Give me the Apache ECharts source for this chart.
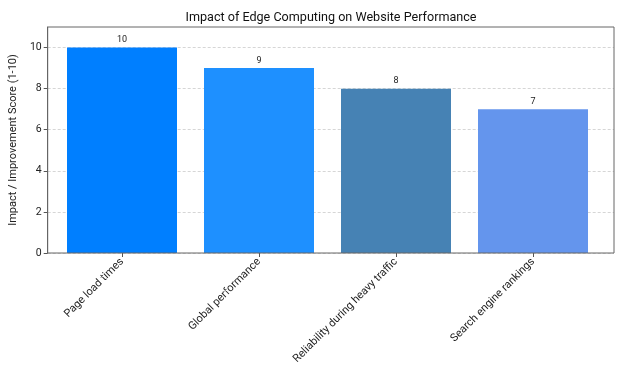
<!DOCTYPE html>
<html>
<head>
<meta charset="utf-8">
<script src="https://cdn.jsdelivr.net/npm/echarts@6/dist/echarts.min.js"></script>
<style>html,body{margin:0;padding:0;background:#fff;}#c{width:624px;height:374px;}</style>
</head>
<body>
<div id="c"></div>
<script>
const categories = ["Page load times", "Global performance", "Reliability during heavy traffic", "Search engine rankings"];
const scores = [10, 9, 8, 7];
const barColors = ["#007FFF", "#1E90FF", "#4682B4", "#6495ED"];
const yTicks = [0, 2, 4, 6, 8, 10];

const FONT = "Roboto";
const chart = echarts.init(document.getElementById('c'), null, {renderer: 'canvas'});
chart.setOption({
  animation: false,
  textStyle: {fontFamily: FONT},
  title: {
    text: "Impact of Edge Computing on Website Performance",
    left: 326, top: 6, textAlign: 'center',
    textStyle: {fontFamily: FONT, fontSize: 12.6, fontWeight: 'normal', color: '#111'}
  },
  grid: [
    {left: 53.5, right: 22.5, top: 27, bottom: 121, show: false},
    {left: 41, right: 10, top: 27, bottom: 121, show: true, borderColor: '#666', borderWidth: 1, z: 3}
  ],
  xAxis: [
    {
      type: 'category', data: categories, gridIndex: 0,
      boundaryGap: true,
      axisLine: {show: false},
      axisTick: {show: true, alignWithLabel: true, length: 4, lineStyle: {color: '#555'}},
      axisLabel: {interval: 0, rotate: 45, margin: 7, fontFamily: FONT, fontSize: 11, color: '#222'},
      splitLine: {show: false}
    },
    {
      type: 'value', gridIndex: 1, min: 0, max: 1, show: false
    }
  ],
  yAxis: [
    {
      type: 'value', gridIndex: 0, min: 0, max: 11, show: false, splitLine: {show: false}
    },
    {
      type: 'value', gridIndex: 1, min: 0, max: 11, interval: 2,
      name: "Impact / Improvement Score (1-10)",
      nameLocation: 'middle', nameGap: 21,
      nameTextStyle: {fontFamily: FONT, fontSize: 11, color: '#222'},
      axisLine: {show: true, lineStyle: {color: '#666'}},
      axisTick: {show: true, customValues: yTicks, length: 4, lineStyle: {color: '#555'}},
      axisLabel: {customValues: yTicks, fontFamily: FONT, fontSize: 10.5, color: '#222', margin: 6},
      splitLine: {show: true, customValues: yTicks, lineStyle: {color: '#ccc', type: [3, 2], width: 0.8}}
    }
  ],
  series: [{
    type: 'bar',
    xAxisIndex: 0, yAxisIndex: 0,
    barWidth: 110,
    z: 2,
    data: scores.map((v, i) => ({value: v, itemStyle: {color: barColors[i]}})),
    label: {show: true, position: 'top', distance: 3, fontFamily: FONT, fontSize: 9, color: '#222'}
  }]
});
</script>
</body>
</html>
